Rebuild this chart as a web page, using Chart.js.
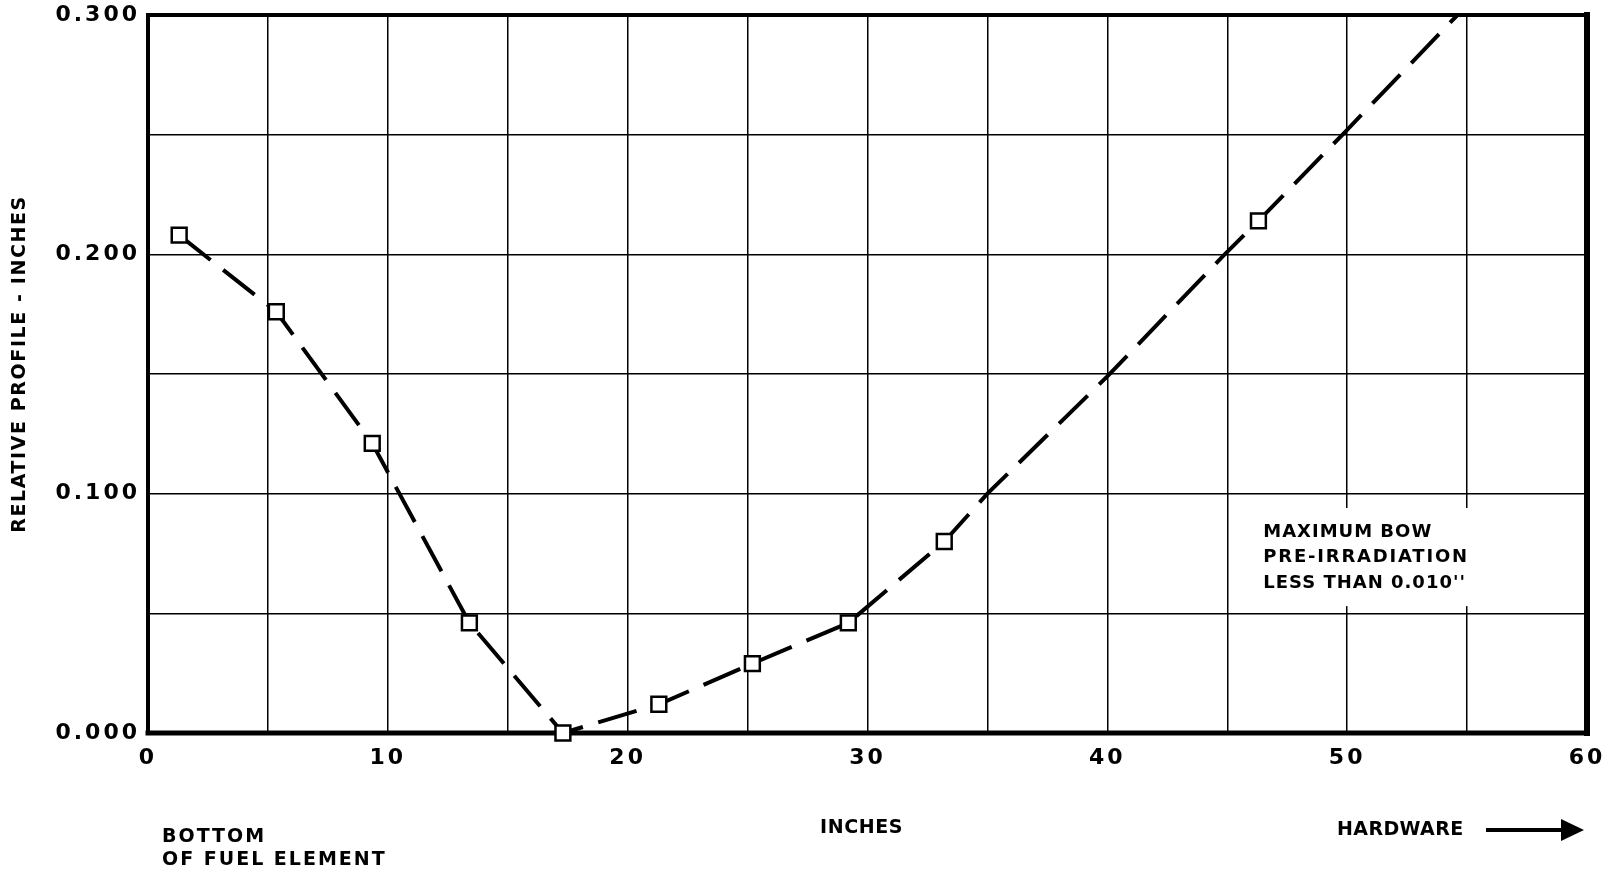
<!DOCTYPE html>
<html lang="en">
<head>
<meta charset="UTF-8" />
<title>Relative Profile</title>
<script src="https://cdn.jsdelivr.net/npm/chart.js"></script>
<style>
  html, body { margin: 0; padding: 0; background: #fff; }
  canvas { display: block; }
</style>
</head>
<body>
<canvas id="profileChart" width="1612" height="875"></canvas>
<script>
  // measured squares (inches along element, relative profile in inches)
  const pointX = [1.3, 5.35, 9.35, 13.4, 17.3, 21.3, 25.2, 29.2, 33.2, 46.3];
  const pointY = [0.208, 0.176, 0.121, 0.046, 0.000, 0.012, 0.029, 0.046, 0.080, 0.214];

  // dashed curve as drawn on the sheet, runs out through the top
  const curveX = [1.3, 5.35, 9.35, 13.4, 17.3, 21.3, 25.2, 29.2, 33.2, 35, 40, 44.8, 46.3, 49.9, 54.6];
  const curveY = [0.208, 0.176, 0.121, 0.046, 0.000, 0.012, 0.029, 0.046, 0.080, 0.100, 0.149, 0.199, 0.214, 0.251, 0.300];

  const xTicks = [0, 10, 20, 30, 40, 50, 60];
  const yTicks = [0.0, 0.1, 0.2, 0.3];
  const xTitle = 'INCHES';
  const yTitle = 'RELATIVE PROFILE - INCHES';
  const noteLines = ['MAXIMUM BOW', 'PRE-IRRADIATION', "LESS THAN 0.010''"];
  const bottomLines = ['BOTTOM', 'OF FUEL ELEMENT'];
  const topLabel = 'HARDWARE';

  const FACE = '"DejaVu Sans", sans-serif';

  function label(ctx, text, x, y, size, spacing, align) {
    ctx.font = 'bold ' + size + 'px ' + FACE;
    ctx.letterSpacing = spacing + 'px';
    ctx.textAlign = align || 'left';
    ctx.fillText(text, x, y);
  }

  const paper = {
    id: 'paper',
    // wide lettering on the tick numbers
    beforeUpdate(chart) { chart.ctx.letterSpacing = '3px'; },
    beforeDraw(chart) { chart.ctx.letterSpacing = '3px'; },
    beforeDatasetsDraw(chart) {
      const { ctx, chartArea: a, scales: { x, y } } = chart;
      ctx.save();
      // grid is blanked out behind the note
      const bx0 = x.getPixelForValue(46), bx1 = x.getPixelForValue(55.5);
      const by0 = y.getPixelForValue(0.094), by1 = y.getPixelForValue(0.053);
      ctx.fillStyle = '#fff';
      ctx.fillRect(bx0, by0, bx1 - bx0, by1 - by0);

      // heavy frame
      ctx.strokeStyle = '#000';
      ctx.lineCap = 'square';
      const side = (w, x0, y0, x1, y1) => {
        ctx.lineWidth = w;
        ctx.beginPath(); ctx.moveTo(x0, y0); ctx.lineTo(x1, y1); ctx.stroke();
      };
      side(4, a.left, a.top, a.left, a.bottom);
      side(4, a.left, a.top, a.right, a.top);
      side(6, a.right, a.top, a.right, a.bottom);
      side(5, a.left, a.bottom, a.right, a.bottom);

      ctx.fillStyle = '#000';
      ctx.textBaseline = 'middle';
      noteLines.forEach((t, i) => label(ctx, t, bx0 + 12, by0 + 24 + i * 25.5, 18, i === 1 ? 1.8 : 1));
      ctx.restore();
    },
    afterDraw(chart) {
      const { ctx, chartArea: a } = chart;
      ctx.save();
      ctx.fillStyle = '#000';
      ctx.strokeStyle = '#000';
      ctx.textBaseline = 'middle';

      label(ctx, xTitle, (a.left + a.right) / 2 - 6, 828, 19, 0.6, 'center');
      bottomLines.forEach((t, i) => label(ctx, t, a.left + 14, 837 + i * 23.5, 19, 2));
      label(ctx, topLabel, 1337, 830, 19, 0.4);

      // arrow after HARDWARE
      ctx.lineWidth = 4;
      ctx.beginPath(); ctx.moveTo(1486, 830); ctx.lineTo(1565, 830); ctx.stroke();
      ctx.beginPath();
      ctx.moveTo(1561, 819); ctx.lineTo(1584, 830); ctx.lineTo(1561, 841); ctx.closePath();
      ctx.fill();

      // y title, reads upward
      ctx.translate(20.5, 364);
      ctx.rotate(-Math.PI / 2);
      label(ctx, yTitle, 0, 0, 19, 1.6, 'center');
      ctx.restore();
    }
  };

  new Chart(document.getElementById('profileChart'), {
    type: 'scatter',
    data: {
      datasets: [
        {
          label: 'Measured',
          data: pointX.map((x, i) => ({ x, y: pointY[i] })),
          pointStyle: 'rect',
          pointRadius: 10.5,
          pointBackgroundColor: '#fff',
          pointBorderColor: '#000',
          pointBorderWidth: 2.5,
          showLine: false,
          clip: false
        },
        {
          label: 'Profile',
          data: curveX.map((x, i) => ({ x, y: curveY[i] })),
          showLine: true,
          borderColor: '#000',
          borderWidth: 4,
          borderDash: [40, 16],
          pointRadius: 0,
          tension: 0
        }
      ]
    },
    options: {
      responsive: false,
      animation: false,
      events: [],
      layout: { padding: { top: 15, right: 25, left: 0, bottom: 0 } },
      plugins: { legend: { display: false }, tooltip: { enabled: false } },
      scales: {
        x: {
          type: 'linear',
          min: 0,
          max: 60,
          ticks: {
            stepSize: 5,
            autoSkip: false,
            maxRotation: 0,
            padding: 12,
            color: '#000',
            font: { family: FACE, size: 22, weight: 'bold' },
            callback: v => xTicks.includes(v) ? String(v) : ''
          },
          grid: { color: '#000', lineWidth: 1.5, drawTicks: false },
          border: { display: false },
          afterFit: s => { s.height = 142; s.paddingLeft = 0; s.paddingRight = 0; }
        },
        y: {
          type: 'linear',
          min: 0,
          max: 0.3,
          ticks: {
            stepSize: 0.05,
            padding: 8,
            color: '#000',
            font: { family: FACE, size: 22, weight: 'bold' },
            callback: v => yTicks.some(t => Math.abs(t - v) < 1e-9) ? v.toFixed(3) : ''
          },
          grid: { color: '#000', lineWidth: 1.5, drawTicks: false },
          border: { display: false },
          afterFit: s => { s.width = 148; s.paddingTop = 0; s.paddingBottom = 0; }
        }
      }
    },
    plugins: [paper]
  });
</script>
</body>
</html>
